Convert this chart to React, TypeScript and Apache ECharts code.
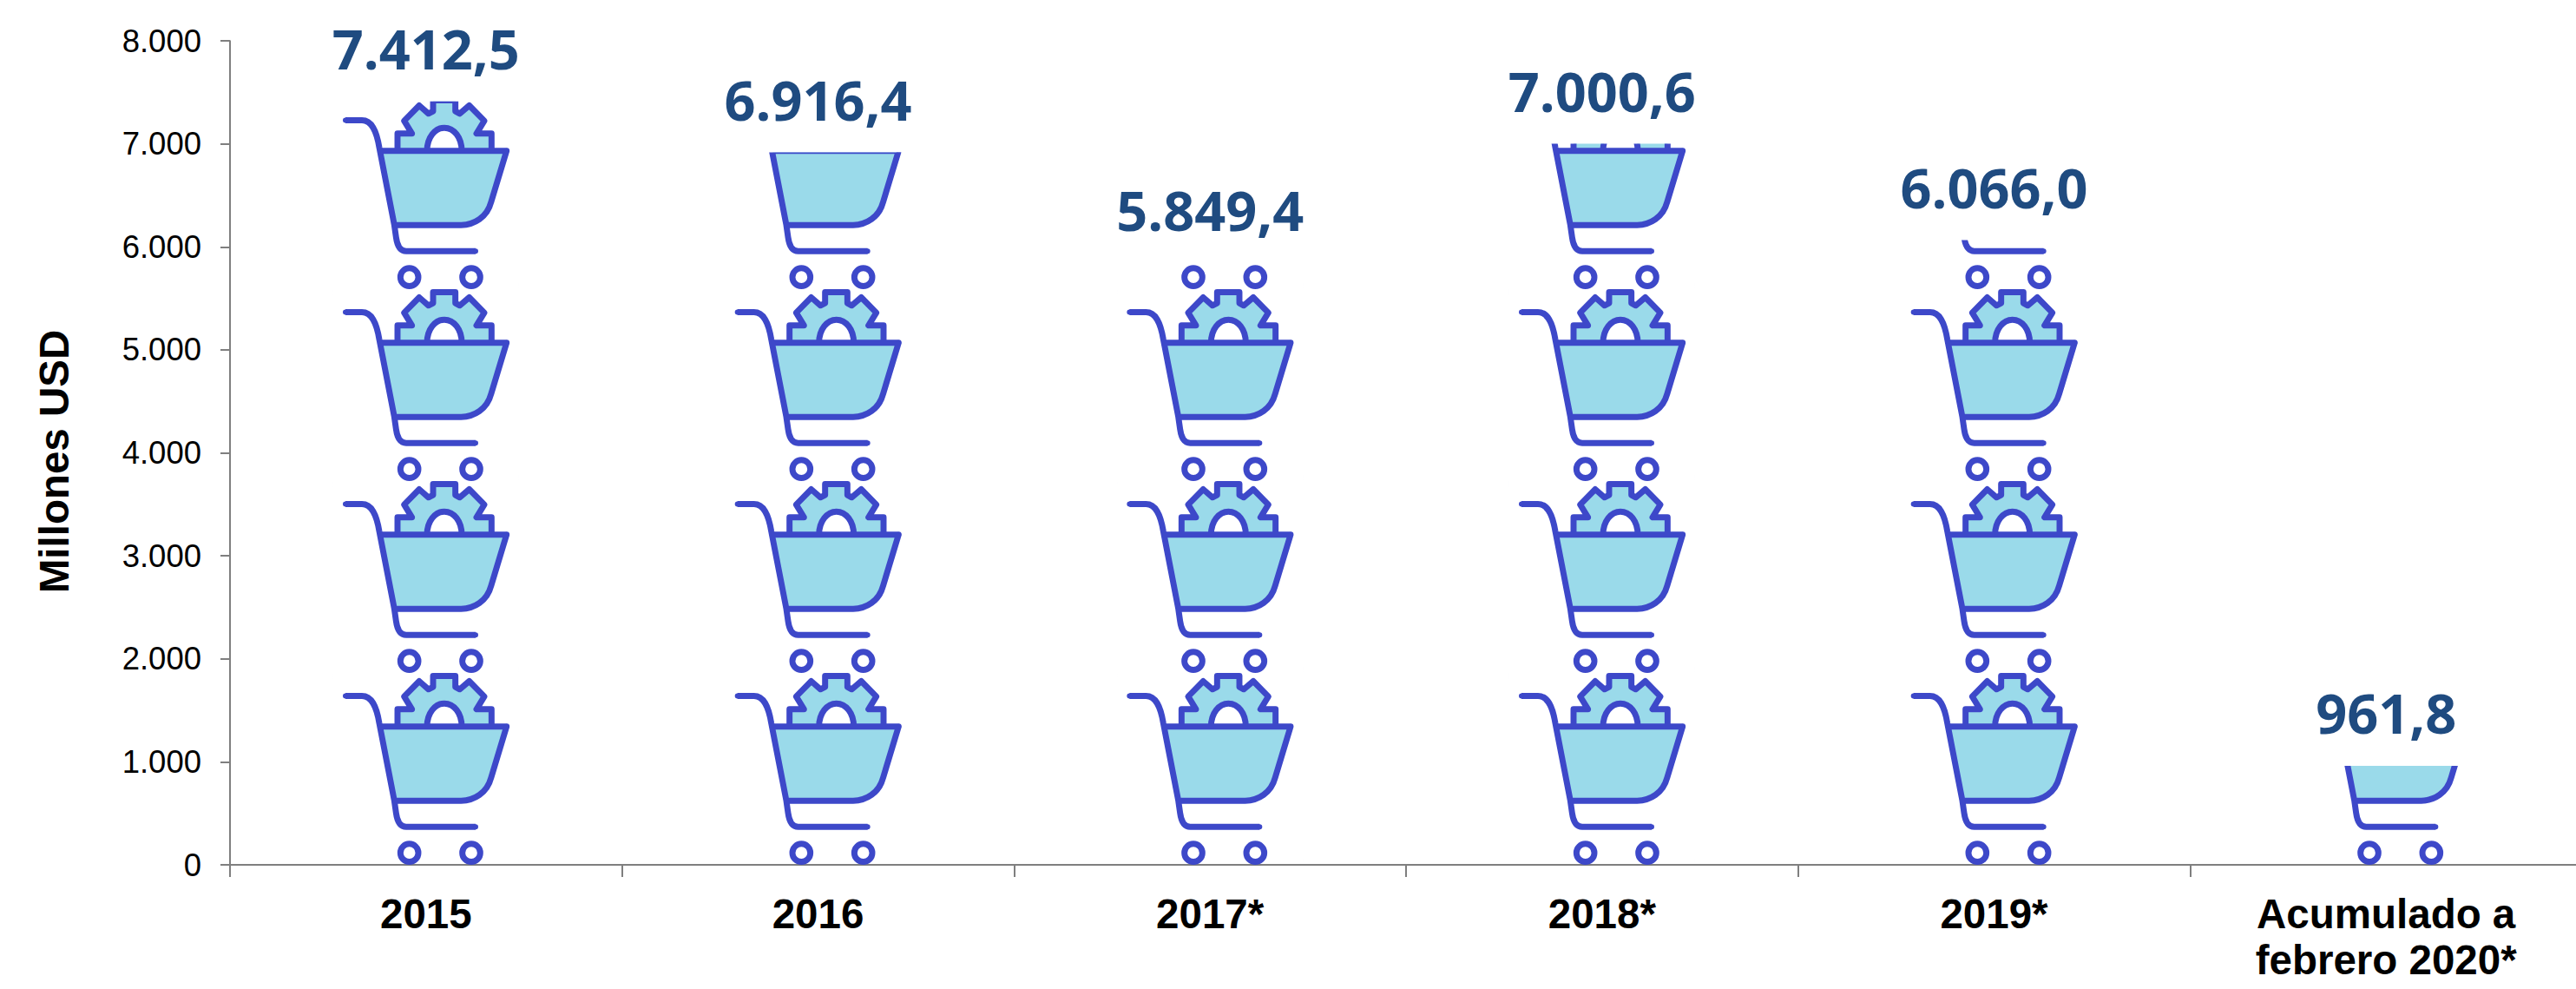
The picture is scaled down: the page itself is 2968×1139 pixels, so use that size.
import React, { useEffect, useRef } from "react";
import * as echarts from "echarts";

const categories = ["2015", "2016", "2017*", "2018*", "2019*", "Acumulado a\nfebrero 2020*"];
const values = [7412.5, 6916.4, 5849.4, 7000.6, 6066.0, 961.8];
const valueLabels = ["7.412,5", "6.916,4", "5.849,4", "7.000,6", "6.066,0", "961,8"];

const dot = (x: number, y: number) => `M${x - 9} ${y}A9 9 0 1 1 ${x + 9} ${y}A9 9 0 1 1 ${x - 9} ${y}Z`;

const BOUNDS = "M132.5 237L132.51 237M774.5 879L774.49 879";

const STROKE_PATH =
  "path://" + BOUNDS +
  "M175 306L232 306C265 306 282 340 292 400L344 668L350 710C354 740 365 758 385 758L625 758" +
  "M296 412L732 412L678 590C665 640 620 668 575 668L344 668" +
  "M355 412L355 352L405 352L378 308L430 255L462 283L478 275L478 237L555 237L555 275L570 283L603 255L655 308L628 352L680 352L680 412" +
  "M457 412C457 365 485 332 517 332C550 332 577 365 577 412" +
  "M365 848A31 31 0 1 1 427 848A31 31 0 1 1 365 848Z" +
  "M579 848A31 31 0 1 1 641 848A31 31 0 1 1 579 848Z";

const FILL_PATH =
  "path://" + BOUNDS +
  "M296 412L732 412L678 590C665 640 620 668 575 668L344 668Z" +
  "M355 412L355 352L405 352L378 308L430 255L462 283L478 275L478 237L555 237L555 275L570 283L603 255L655 308L628 352L680 352L680 412" +
  "L577 412C577 365 550 332 517 332C485 332 457 365 457 412Z";

const CAPS_PATH = "path://" + BOUNDS + dot(175, 306) + dot(625, 758) + dot(732, 412);

const SYMBOL_SIZE = [214, 214];
const PERIOD_VALUE = 1863;
const REPEATS = 4;

const common = {
  type: "pictorialBar",
  data: values,
  symbolSize: SYMBOL_SIZE,
  symbolRepeat: REPEATS,
  symbolBoundingData: PERIOD_VALUE * REPEATS,
  symbolMargin: "4!",
  symbolClip: true,
  symbolPosition: "start",
  barGap: "-100%",
  silent: true,
};

export default function App() {
  const ref = useRef<HTMLDivElement>(null);
  useEffect(() => {
    document.body.style.margin = "0";
    const chart = echarts.init(ref.current!, null, { renderer: "svg" });
    chart.setOption({
      animation: false,
      backgroundColor: "#ffffff",
      grid: { left: 265, top: 47, width: 2710, height: 949, containLabel: false },
      xAxis: {
        type: "category",
        data: categories,
        boundaryGap: true,
        axisLine: { show: true, lineStyle: { color: "#7f7f7f", width: 2 } },
        axisTick: { show: true, length: 14, alignWithLabel: false, lineStyle: { color: "#7f7f7f", width: 2 } },
        axisLabel: {
          interval: 0,
          margin: 30,
          color: "#000000",
          fontFamily: "Liberation Sans",
          fontWeight: "bold",
          fontSize: 47.5,
          lineHeight: 53,
        },
      },
      yAxis: {
        type: "value",
        min: 0,
        max: 8000,
        interval: 1000,
        name: "Millones USD",
        nameLocation: "middle",
        nameGap: 179,
        nameRotate: 90,
        nameTextStyle: {
          color: "#000000",
          fontFamily: "Liberation Sans",
          fontWeight: "bold",
          fontSize: 47.5,
          padding: [0, 20, 0, 0],
        },
        splitLine: { show: false },
        axisLine: { show: true, lineStyle: { color: "#555555", width: 1.5 } },
        axisTick: { show: true, length: 11, lineStyle: { color: "#7f7f7f", width: 2 } },
        axisLabel: {
          margin: 33,
          color: "#000000",
          fontFamily: "Liberation Sans",
          fontSize: 36.5,
          formatter: (v: number) => (v === 0 ? "0" : `${v / 1000}.000`),
        },
      },
      series: [
        {
          ...common,
          name: "fill",
          z: 2,
          symbol: FILL_PATH,
          itemStyle: { color: "#9adaea", borderWidth: 0 },
        },
        {
          ...common,
          name: "stroke",
          z: 3,
          symbol: STROKE_PATH,
          itemStyle: {
            color: "rgba(0,0,0,0)",
            borderColor: "#3d48c9",
            borderWidth: 13,
            borderCap: "butt",
            borderJoin: "round",
          },
        },
        {
          ...common,
          name: "caps",
          z: 3,
          symbol: CAPS_PATH,
          itemStyle: { color: "#3d48c9", borderWidth: 0 },
        },
        {
          type: "scatter",
          name: "labels",
          data: values,
          z: 4,
          silent: true,
          symbolSize: 1,
          itemStyle: { color: "rgba(0,0,0,0)", opacity: 1 },
          label: {
            show: true,
            position: "top",
            distance: 29,
            color: "#1f4b80",
            fontFamily: "Open Sans",
            fontWeight: "bold",
            fontSize: 63,
            formatter: (p: { dataIndex: number }) => valueLabels[p.dataIndex],
          },
        },
      ],
    });
    return () => chart.dispose();
  }, []);
  return (
    <div style={{ position: "absolute", left: 0, top: 0, width: 2968, height: 1139, overflow: "hidden" }}>
      <div ref={ref} style={{ width: 2990, height: 1139 }} />
    </div>
  );
}
